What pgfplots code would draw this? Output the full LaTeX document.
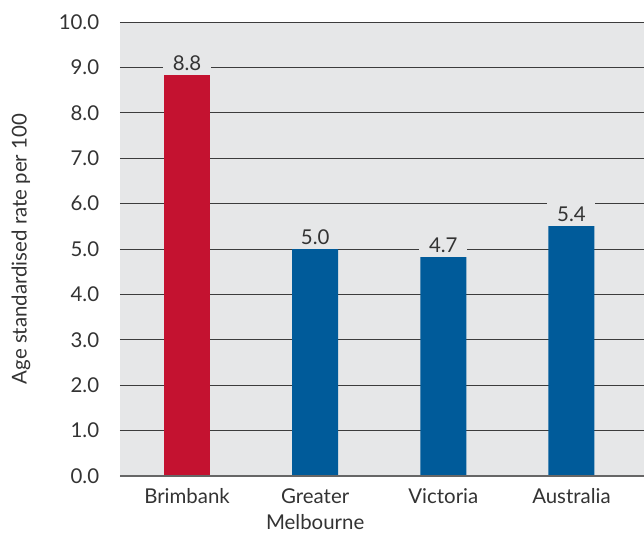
\documentclass[border=0pt]{standalone}
\usepackage{pgfplots}
\pgfplotsset{compat=1.18}
\usepackage{fontspec}
\setmainfont{Lato}
\definecolor{bg}{HTML}{E6E7E8}
\definecolor{barred}{HTML}{C41230}
\definecolor{barblue}{HTML}{005B9A}
\definecolor{grid}{HTML}{3C3C3C}
\definecolor{txt}{HTML}{333333}
\begin{document}
\fontsize{20}{26}\selectfont
\begin{tikzpicture}
\begin{axis}[
  name=ax,
  scale only axis,
  width=524bp, height=454bp,
  xmin=-0.523, xmax=3.566,
  ymin=0, ymax=10,
  ytick={0,1,...,10},
  xtick={0,1,2,3},
  xticklabels={Brimbank,{Greater\\Melbourne},Victoria,Australia},
  xticklabel style={align=center, text=txt, yshift=-6bp, font=\fontsize{20.5}{26}\selectfont},
  yticklabel style={text=txt, xshift=-14bp, font=\fontsize{20.5}{24}\selectfont},
  /pgf/number format/assume math mode=true,
  yticklabel={\pgfmathprintnumber[fixed,fixed zerofill,precision=1]{\tick}},
  axis background/.style={fill=bg},
  axis line style={draw=none},
  major tick length=0pt,
  ymajorgrids,
  major grid style={draw=grid, line width=0.9bp},
  ylabel={Age standardised rate per 100},
  ylabel style={at={(axis description cs:0,0.5)}, anchor=center, yshift=99bp, text=txt, font=\fontsize{20.5}{24}\selectfont},
  ybar, bar width=46bp,
  point meta=explicit symbolic,
  nodes near coords,
  nodes near coords style={fill=bg, text=txt, anchor=south, minimum width=48bp, inner ysep=4bp, yshift=0bp, font=\fontsize{20.5}{24}\selectfont},
  clip=false,
]
\addplot[fill=barred, draw=none, bar shift=0pt] coordinates {(0,8.83) [8.8]};
\addplot[fill=barblue, draw=none, bar shift=0pt] coordinates {(1,5.0) [5.0] (2,4.82) [4.7] (3,5.51) [5.4]};
\draw[draw=gray!80!black, line width=2bp] (axis cs:-0.523,0) -- (axis cs:3.566,0);
\end{axis}
\pgfresetboundingbox
\useasboundingbox ([xshift=-120bp,yshift=-59bp]ax.south west) rectangle ([yshift=22bp]ax.north east);
\end{tikzpicture}
\end{document}
